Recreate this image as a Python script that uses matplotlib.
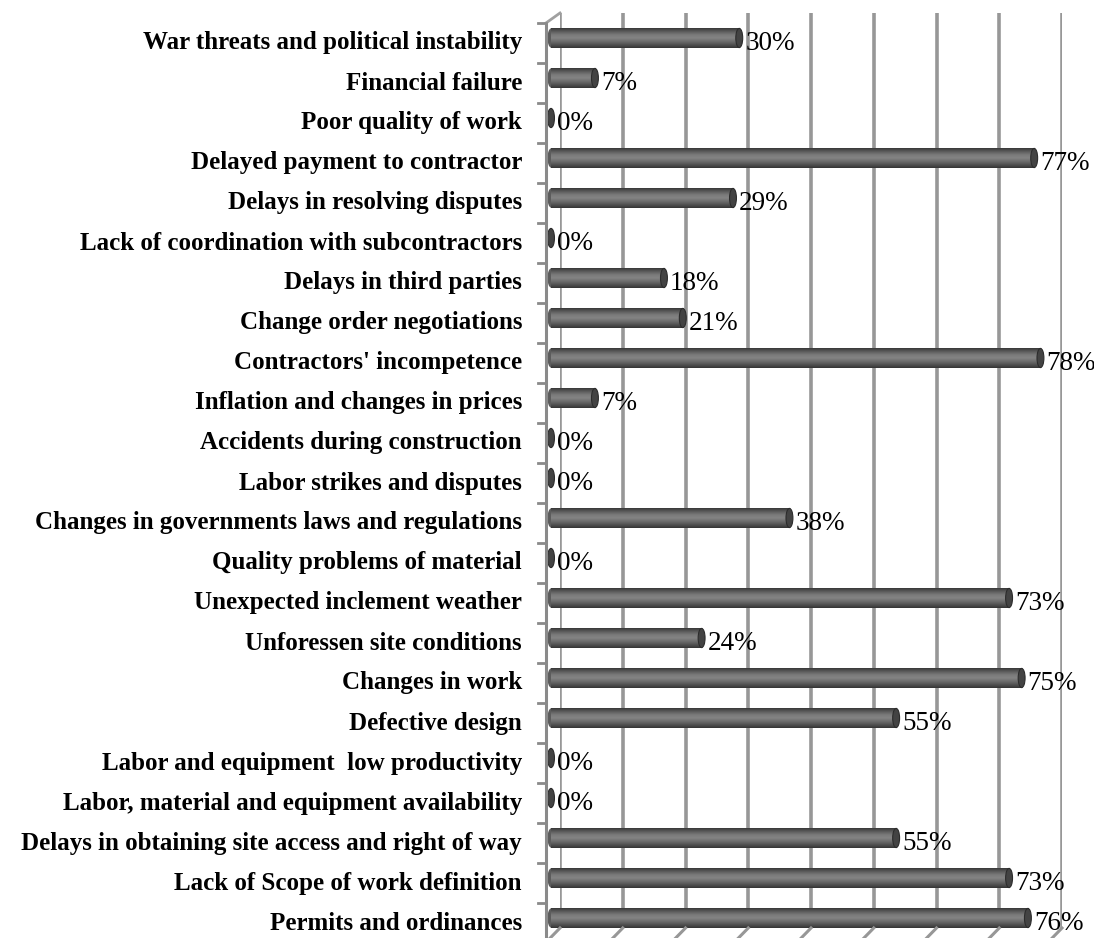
import matplotlib
matplotlib.use("Agg")
import matplotlib.pyplot as plt
import numpy as np
from matplotlib.colors import LinearSegmentedColormap
from matplotlib.lines import Line2D
from matplotlib.patches import Ellipse
from matplotlib.transforms import IdentityTransform, blended_transform_factory, offset_copy

# delay causes, listed top to bottom
causes = [
    "War threats and political instability",
    "Financial failure",
    "Poor quality of work",
    "Delayed payment to contractor",
    "Delays in resolving disputes",
    "Lack of coordination with subcontractors",
    "Delays in third parties",
    "Change order negotiations",
    "Contractors' incompetence",
    "Inflation and changes in prices",
    "Accidents during construction",
    "Labor strikes and disputes",
    "Changes in governments laws and regulations",
    "Quality problems of material",
    "Unexpected inclement weather",
    "Unforessen site conditions",
    "Changes in work",
    "Defective design",
    "Labor and equipment  low productivity",
    "Labor, material and equipment availability",
    "Delays in obtaining site access and right of way",
    "Lack of Scope of work definition",
    "Permits and ordinances",
]
percent = [30, 7, 0, 77, 29, 0, 18, 21, 78, 7, 0, 0, 38, 0, 73, 24, 75, 55, 0, 0, 55, 73, 76]

grid_ticks = list(range(0, 81, 10))

W, H = 1094, 938
fig = plt.figure(figsize=(W / 100, H / 100), dpi=100)
ax = fig.add_axes([560 / W, 10 / H, 502 / W, 915 / H])

n = len(causes)
pos = np.arange(n)[::-1]          # first cause at the top
bar_h = 0.48

# 3D depth: bars sit in front of the back wall, wall edges project further
front = offset_copy(ax.transData, fig=fig, x=-9, y=-5, units="dots")
wall_depth = (-14, -10)

cyl = LinearSegmentedColormap.from_list(
    "cyl", ["#383838", "#5c5c5c", "#7a7a7a", "#848484", "#6c6c6c", "#525252", "#343434"])
grad = np.linspace(0, 1, 64).reshape(-1, 1)

for p, v in zip(pos, percent):
    if v > 0:
        im = ax.imshow(grad, cmap=cyl, aspect="auto", origin="upper",
                       extent=(0, v, p - bar_h / 2, p + bar_h / 2),
                       transform=front, zorder=3, interpolation="bilinear")
        im.set_clip_on(False)
        ax.add_patch(Ellipse((0, p), 1.1, bar_h, transform=front, clip_on=False,
                             facecolor="#5c5c5c", edgecolor="none", zorder=2.9))
    ax.add_patch(Ellipse((v, p), 1.1, bar_h, transform=front, clip_on=False,
                         facecolor="#434343", edgecolor="#2c2c2c", lw=0.8, zorder=3.2))

# value labels just past the end of each cylinder
val_trans = offset_copy(ax.transData, fig=fig, x=-3, y=-10, units="dots")
for p, v in zip(pos, percent):
    ax.text(v, p, f"{v}%", transform=val_trans, ha="left", va="center",
            family="Liberation Serif", fontsize=19.5, color="black",
            clip_on=False, zorder=5)

ax.set_xlim(0, 80)
ax.set_ylim(-0.375, n - 0.5)
ax.set_xticks(grid_ticks)
ax.set_yticks([])
ax.tick_params(axis="x", length=0, labelbottom=False)
ax.grid(axis="x", color="#979797", lw=2.6, zorder=0)
ax.set_axisbelow(True)
for s in ax.spines.values():
    s.set_visible(False)

# left wall: vertical edge, top diagonal, category ticks
wall = offset_copy(ax.transAxes, fig=fig, x=wall_depth[0], y=wall_depth[1], units="dots")
fig.add_artist(Line2D([0, 0], [0, 1], transform=wall, color="#8a8a8a", lw=2.2))
top_back = ax.transAxes.transform((0, 1))
top_front = wall.transform((0, 1))
fig.add_artist(Line2D([top_front[0], top_back[0]], [top_front[1], top_back[1]],
                      transform=IdentityTransform(), color="#a0a0a0", lw=2))

ywall = blended_transform_factory(ax.transAxes, ax.transData)
ywall = offset_copy(ywall, fig=fig, x=wall_depth[0], y=wall_depth[1], units="dots")
for b in np.arange(-0.5, n, 1.0):
    pt = ywall.transform((0, b))
    fig.add_artist(Line2D([pt[0] - 8, pt[0]], [pt[1], pt[1]],
                          transform=IdentityTransform(), color="#8a8a8a", lw=2))

# floor feet of each gridline
xfloor = blended_transform_factory(ax.transData, ax.transAxes)
for g in grid_ticks:
    a = xfloor.transform((g, 0))
    fig.add_artist(Line2D([a[0], a[0] + wall_depth[0] * 0.7], [a[1], a[1] + wall_depth[1]],
                          transform=IdentityTransform(), color="#979797", lw=2.2))

# category labels
lab_trans = offset_copy(ywall, fig=fig, x=-24, y=0, units="dots")
for p, c in zip(pos, causes):
    ax.text(0, p, c, transform=lab_trans, ha="right", va="center",
            family="Liberation Serif", fontweight="bold", fontsize=18,
            color="black", clip_on=False)

fig.savefig("out.png", dpi=100)
